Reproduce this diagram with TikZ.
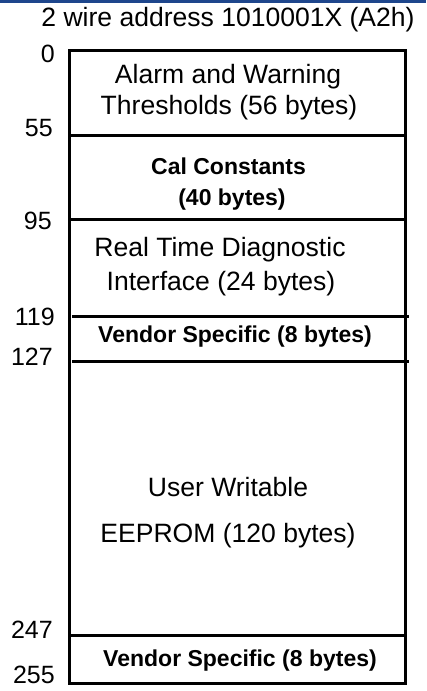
\documentclass[tikz,border=0pt]{standalone}
\usepackage{fontspec}
\setmainfont{Liberation Sans}
\definecolor{barblue}{RGB}{30,70,140}
\begin{document}
\begin{tikzpicture}[x=0.75pt,y=-0.75pt,
  reg/.style={font=\fontsize{19.9}{24}\selectfont,inner sep=0pt,anchor=base},
  bld/.style={font=\fontsize{17.25}{21}\bfseries\selectfont,inner sep=0pt,anchor=base},
  lbl/.style={font=\fontsize{18.75}{22}\selectfont,inner sep=0pt,anchor=base east},
  edge/.style={line width=2.25pt},
  sep/.style={line width=2.25pt}]
\useasboundingbox (0,0) rectangle (426,691);
\fill[barblue] (0,0) rectangle (426,3.5);
\node[reg] (title) at (228,27) {2 wire address 1010001X (A2h)};
% outer box
\draw[edge,line join=miter] (69,51) rectangle (405,683);
% separators
\draw[sep] (69,135.5) -- (405,135.5);
\draw[sep] (69,220) -- (405,220);
\draw[sep] (72,316) -- (409,316);
\draw[sep] (72,361) -- (409,361);
\draw[sep] (69,635) -- (405,635);
% section texts
\node[reg] (a1) at (228,84) {Alarm and Warning};
\node[reg] (a2) at (229,115) {Thresholds (56 bytes)};
\node[bld] (c1) at (228.5,175) {Cal Constants};
\node[bld] (c2) at (232,206) {(40 bytes)};
\node[reg] (r1) at (220,257) {Real Time Diagnostic};
\node[reg] (r2) at (221,290) {Interface (24 bytes)};
\node[bld] (v1) at (235,342) {Vendor Specific (8 bytes)};
\node[reg] (u1) at (228,496) {User Writable};
\node[reg] (u2) at (228,542) {EEPROM (120 bytes)};
\node[bld] (v2) at (240,666) {Vendor Specific (8 bytes)};
% address labels
\node[lbl] (l0) at (55,63) {0};
\node[lbl] (l55) at (53,137) {55};
\node[lbl] (l95) at (52,230) {95};
\node[lbl] (l119) at (55,325) {119};
\node[lbl] (l127) at (53,365) {127};
\node[lbl] (l247) at (53,638) {247};
\node[lbl] (l255) at (55,683) {255};
\end{tikzpicture}
\end{document}
